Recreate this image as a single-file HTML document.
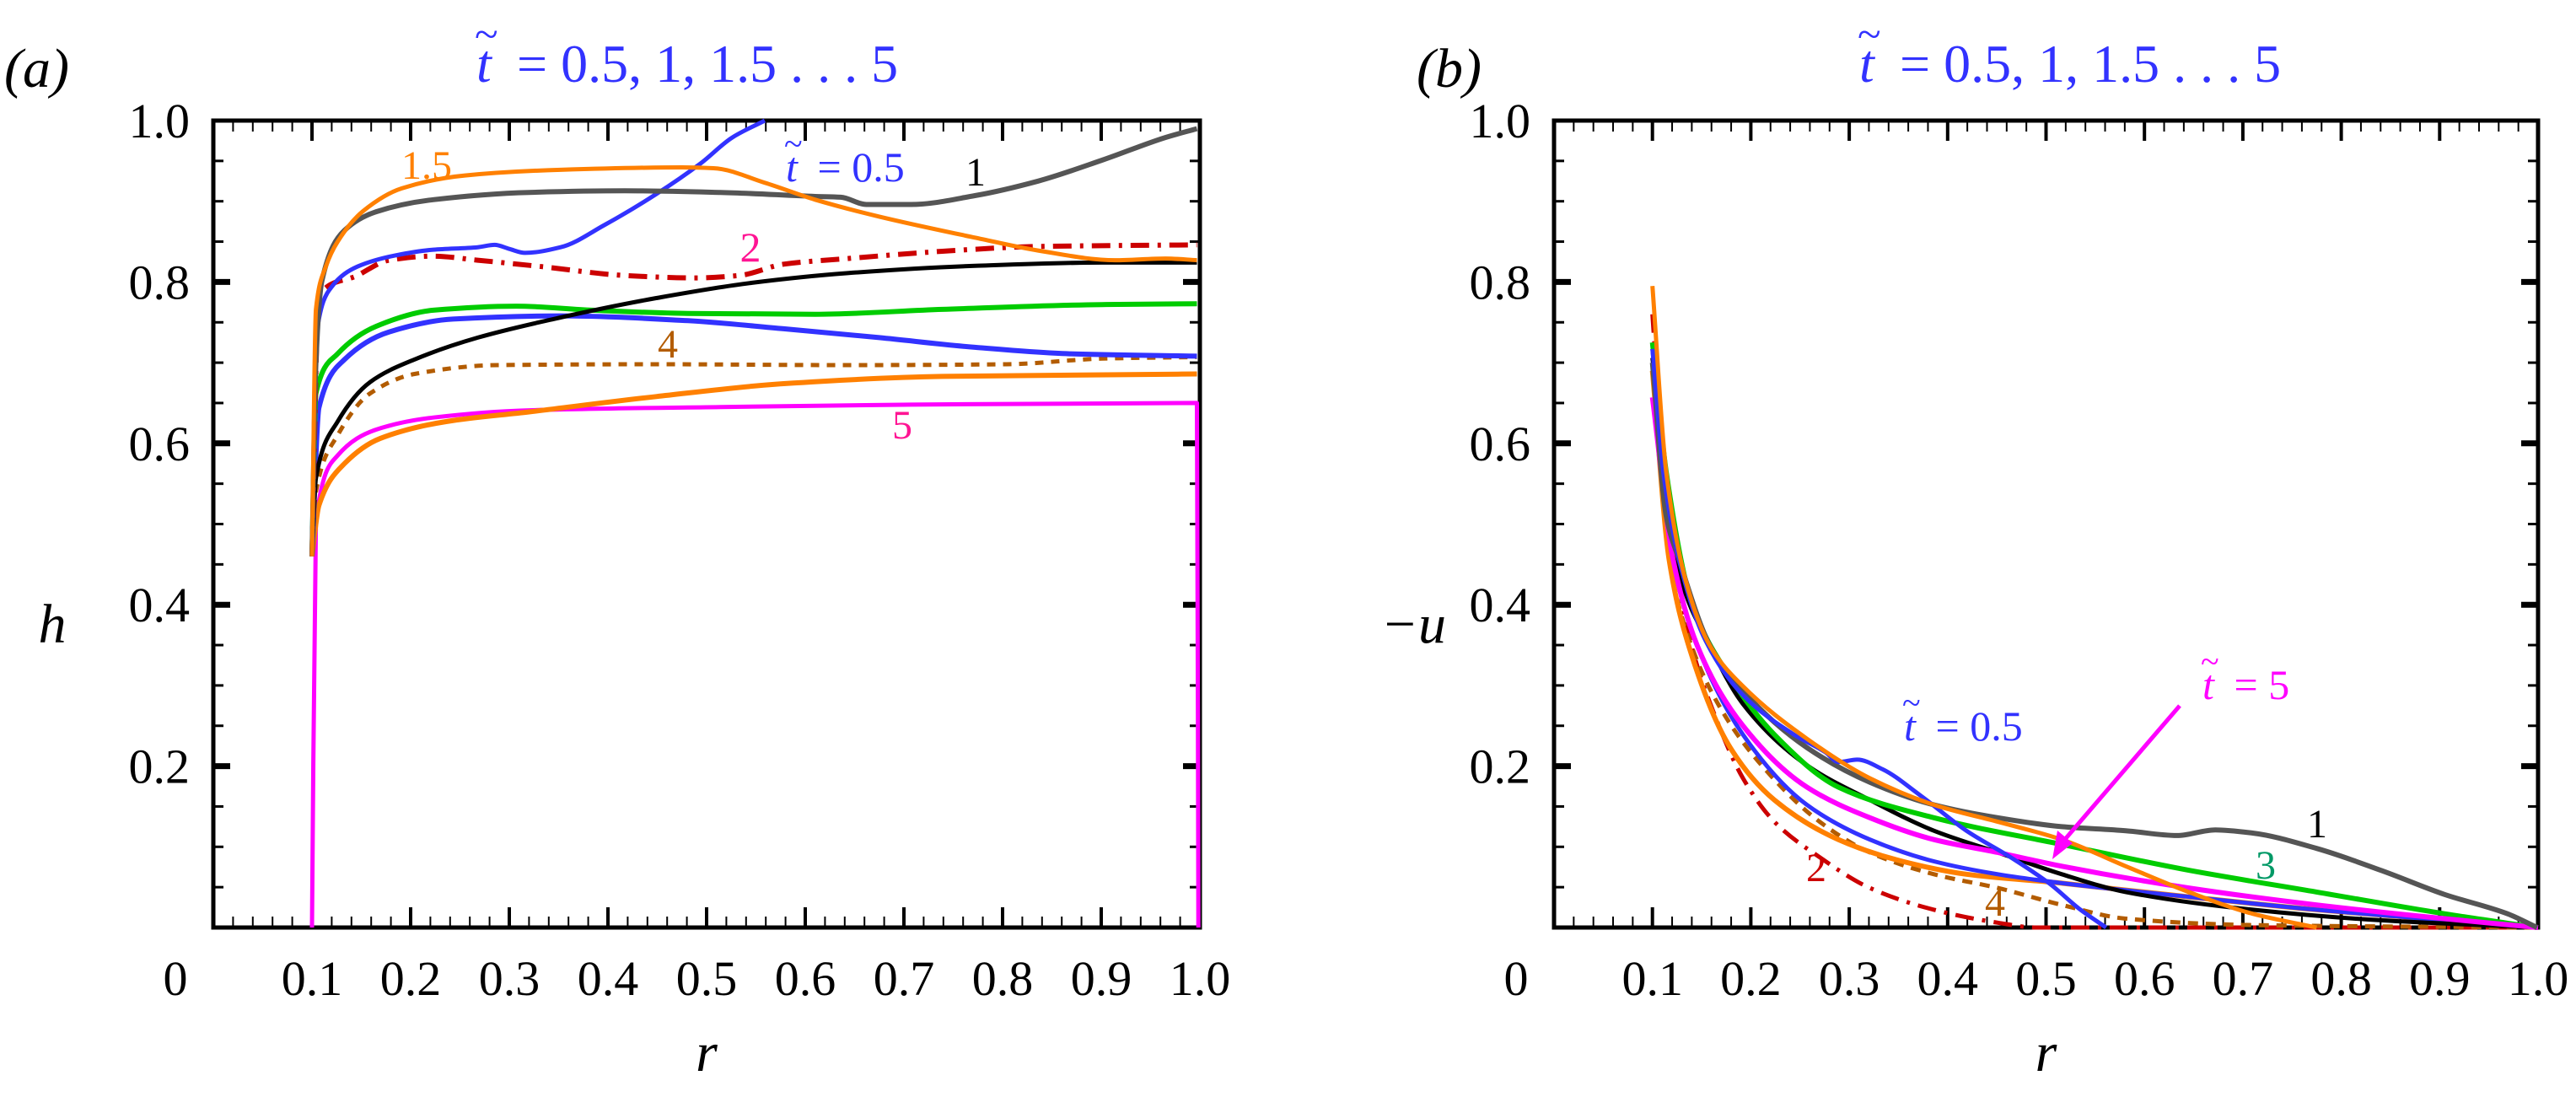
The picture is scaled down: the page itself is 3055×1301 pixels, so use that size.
<!DOCTYPE html>
<html><head><meta charset="utf-8"><style>
html,body{margin:0;padding:0;background:#fff;}
svg, svg text{font-family:"Liberation Serif","Times New Roman",serif;}
</style></head><body>
<svg id="fig" width="3055" height="1296" viewBox="0 0 3055 1296" xmlns="http://www.w3.org/2000/svg" font-family="Liberation Serif, serif">
<g id="pa"></g>
<g id="pb"></g>
</svg>
<script>
// ---- data: panel (a) h vs r ----
const aGray_r=[0.1,0.104,0.110,0.133,0.165,0.223,0.320,0.417,0.514,0.610,0.636,0.662,0.707,0.772,0.836,0.901,0.965,0.997];
const aGray_v=[0.46,0.70,0.801,0.864,0.887,0.902,0.911,0.913,0.911,0.906,0.905,0.896,0.896,0.907,0.925,0.951,0.979,0.990];
const aOr15_r=[0.1,0.104,0.114,0.126,0.152,0.191,0.255,0.352,0.475,0.507,0.559,0.610,0.675,0.772,0.836,0.914,0.965,0.997];
const aOr15_v=[0.46,0.766,0.819,0.850,0.888,0.916,0.932,0.939,0.942,0.941,0.923,0.902,0.881,0.855,0.839,0.827,0.829,0.827];
const aBl05_r=[0.1,0.104,0.120,0.146,0.185,0.223,0.268,0.285,0.300,0.316,0.352,0.397,0.449,0.494,0.526,0.559];
const aBl05_v=[0.46,0.731,0.794,0.819,0.833,0.840,0.843,0.846,0.841,0.836,0.843,0.871,0.909,0.947,0.979,1.0];
const aRed2_r=[0.1,0.107,0.146,0.178,0.223,0.268,0.333,0.417,0.488,0.533,0.578,0.643,0.739,0.836,0.997];
const aRed2_v=[0.46,0.784,0.808,0.827,0.832,0.827,0.819,0.808,0.805,0.808,0.822,0.829,0.838,0.844,0.846];
const aBlk_r=[0.1,0.104,0.126,0.159,0.204,0.268,0.352,0.449,0.546,0.643,0.772,0.901,0.997];
const aBlk_v=[0.46,0.557,0.627,0.676,0.704,0.731,0.756,0.780,0.799,0.811,0.820,0.824,0.824];
const aGrn_r=[0.1,0.104,0.126,0.165,0.223,0.307,0.384,0.481,0.610,0.739,0.901,0.997];
const aGrn_v=[0.46,0.662,0.711,0.745,0.765,0.770,0.765,0.761,0.760,0.766,0.772,0.773];
const aBl35_r=[0.1,0.107,0.133,0.178,0.243,0.352,0.481,0.578,0.675,0.772,0.868,0.997];
const aBl35_v=[0.46,0.644,0.704,0.738,0.754,0.758,0.752,0.742,0.731,0.719,0.711,0.708];
const aBr4_r=[0.1,0.104,0.126,0.159,0.204,0.288,0.449,0.643,0.804,0.901,0.997];
const aBr4_v=[0.46,0.540,0.610,0.662,0.686,0.697,0.698,0.697,0.698,0.705,0.707];
const aOr45_r=[0.1,0.107,0.133,0.169,0.236,0.320,0.449,0.578,0.739,0.997];
const aOr45_v=[0.46,0.523,0.575,0.606,0.627,0.639,0.658,0.674,0.683,0.686];
const aMag5_r=[0.1,0.104,0.126,0.165,0.223,0.320,0.514,0.707,0.997,0.9985];
const aMag5_v=[0.0,0.505,0.585,0.617,0.632,0.641,0.645,0.648,0.650,0.0];
// ---- data: panel (b) -u vs r ----
const bGray_r=[0.1,0.114,0.127,0.159,0.192,0.257,0.321,0.386,0.451,0.516,0.581,0.633,0.672,0.710,0.775,0.840,0.905,0.969,0.999];
const bGray_v=[0.70,0.51,0.456,0.348,0.293,0.223,0.180,0.152,0.136,0.125,0.120,0.114,0.121,0.117,0.098,0.071,0.041,0.017,0.0];
const bBl05_r=[0.1,0.111,0.127,0.153,0.192,0.244,0.276,0.289,0.308,0.334,0.373,0.419,0.464,0.503,0.535,0.561];
const bBl05_v=[0.717,0.565,0.456,0.358,0.288,0.239,0.217,0.205,0.208,0.196,0.163,0.120,0.087,0.055,0.022,0.0];
const bOr15_r=[0.1,0.114,0.134,0.159,0.192,0.257,0.321,0.386,0.451,0.516,0.581,0.645,0.710,0.775];
const bOr15_v=[0.795,0.565,0.429,0.348,0.299,0.234,0.185,0.152,0.131,0.109,0.076,0.044,0.017,0.0];
const bRed2_r=[0.1,0.111,0.125,0.140,0.166,0.192,0.224,0.270,0.321,0.386,0.451,0.490,1.0];
const bRed2_v=[0.760,0.565,0.44,0.348,0.255,0.185,0.131,0.087,0.049,0.022,0.006,0.0,0.0];
const bGrn3_r=[0.1,0.114,0.140,0.179,0.224,0.289,0.386,0.516,0.645,0.775,0.905,0.999];
const bGrn3_v=[0.725,0.565,0.402,0.310,0.239,0.174,0.136,0.103,0.071,0.044,0.017,0.0];
const bBlk_r=[0.1,0.127,0.159,0.192,0.257,0.321,0.386,0.451,0.516,0.581,0.710,0.840,1.0];
const bBlk_v=[0.706,0.440,0.348,0.277,0.201,0.158,0.120,0.093,0.066,0.044,0.022,0.009,0.0];
const bBl35_r=[0.1,0.121,0.146,0.192,0.257,0.321,0.386,0.451,0.516,0.645,0.775,1.0];
const bBl35_v=[0.717,0.456,0.348,0.239,0.152,0.109,0.082,0.066,0.055,0.038,0.022,0.0];
const bBr4_r=[0.1,0.117,0.140,0.172,0.211,0.270,0.321,0.386,0.451,0.516,0.581,0.710,1.0];
const bBr4_v=[0.690,0.456,0.348,0.266,0.201,0.131,0.093,0.066,0.049,0.028,0.011,0.003,0.0];
const bOr45_r=[0.1,0.117,0.140,0.179,0.224,0.289,0.354,0.419,0.516,0.645,0.775,0.905,1.0];
const bOr45_v=[0.69,0.456,0.337,0.223,0.158,0.109,0.082,0.066,0.055,0.038,0.022,0.009,0.0];
const bMag5_r=[0.1,0.121,0.146,0.192,0.257,0.321,0.386,0.451,0.516,0.645,0.775,0.905,1.0];
const bMag5_v=[0.657,0.456,0.348,0.250,0.174,0.136,0.109,0.093,0.076,0.049,0.028,0.011,0.0];
const xTicks=[0.1,0.2,0.3,0.4,0.5,0.6,0.7,0.8,0.9,1.0];
const xTickLabels=["0.1","0.2","0.3","0.4","0.5","0.6","0.7","0.8","0.9","1.0"];
const yTicks=[0.2,0.4,0.6,0.8,1.0];
const yTickLabels=["0.2","0.4","0.6","0.8","1.0"];

const NS="http://www.w3.org/2000/svg";
const FF="Liberation Serif, Times New Roman, serif";
const T=143,B=1100;
function mk(parent,tag,attrs,txt){const e=document.createElementNS(NS,tag);for(const k in attrs)e.setAttribute(k,attrs[k]);if(tag==='text')e.setAttribute('font-family',FF);if(txt!==undefined)e.textContent=txt;parent.appendChild(e);return e;}
function axes(g,L,R,ylabel,ylx,anchor){
  const X=r=>L+(R-L)*r, Y=v=>B-(B-T)*v;
  for(let i=1;i<50;i++){const x=X(i/50);const maj=i%5===0;const len=maj?24:13;
    mk(g,'line',{x1:x,y1:B,x2:x,y2:B-len,stroke:'#000','stroke-width':maj?4:2});
    mk(g,'line',{x1:x,y1:T,x2:x,y2:T+len,stroke:'#000','stroke-width':maj?4:2});}
  for(let i=1;i<20;i++){const y=Y(i/20);const maj=i%4===0;const len=maj?20:12;
    mk(g,'line',{x1:L,y1:y,x2:L+len,y2:y,stroke:'#000','stroke-width':maj?7:3});
    mk(g,'line',{x1:R,y1:y,x2:R-len,y2:y,stroke:'#000','stroke-width':maj?7:3});}
  mk(g,'rect',{x:L,y:T,width:R-L,height:B-T,fill:'none',stroke:'#000','stroke-width':5});
  for(let i=0;i<xTicks.length;i++){const t=mk(g,'text',{x:X(xTicks[i]),y:1180,'font-size':58,'text-anchor':'middle'},xTickLabels[i]);
    
    }
  mk(g,'text',{x:L-45,y:1180,'font-size':58,'text-anchor':'middle'},'0');
  for(let i=0;i<yTicks.length;i++){const t=mk(g,'text',{x:L-28,y:Y(yTicks[i])+20,'font-size':58,'text-anchor':'end'},yTickLabels[i]);
    
    }
  const xl=mk(g,'text',{x:(L+R)/2,y:1270,'font-size':66,'font-style':'italic','text-anchor':'middle'},'r');
  
  
  const yl=mk(g,'text',{x:ylx,y:762,'font-size':66,'font-style':'italic','text-anchor':anchor},ylabel);
  
  
  return [X,Y];
}
// monotone cubic interpolation path (Fritsch-Carlson)
function monoPath(xs,ys){
  const n=xs.length; if(n<3){return xs.map((x,i)=>(i?'L':'M')+x.toFixed(1)+','+ys[i].toFixed(1)).join('');}
  const d=[],m=new Array(n);
  for(let i=0;i<n-1;i++){const dx=xs[i+1]-xs[i];d.push(dx===0?0:(ys[i+1]-ys[i])/dx);}
  m[0]=d[0];m[n-1]=d[n-2];
  for(let i=1;i<n-1;i++){ if(d[i-1]*d[i]<=0)m[i]=0; else { const w1=2*(xs[i+1]-xs[i])+(xs[i]-xs[i-1]), w2=(xs[i+1]-xs[i])+2*(xs[i]-xs[i-1]); m[i]=(w1+w2)/(w1/d[i-1]+w2/d[i]); } }
  let s='M'+xs[0].toFixed(1)+','+ys[0].toFixed(1);
  for(let i=0;i<n-1;i++){const h=(xs[i+1]-xs[i])/3;
    s+='C'+(xs[i]+h).toFixed(1)+','+(ys[i]+m[i]*h).toFixed(1)+' '+(xs[i+1]-h).toFixed(1)+','+(ys[i+1]-m[i+1]*h).toFixed(1)+' '+xs[i+1].toFixed(1)+','+ys[i+1].toFixed(1);}
  return s;
}
function series(g,X,Y,rs,vs,color,w,dash,name){
  const d=monoPath(rs.map(X),vs.map(Y));
  const a={d:d,fill:'none',stroke:color,'stroke-width':w,'stroke-linejoin':'round'};
  if(dash)a['stroke-dasharray']=dash;
  const p=mk(g,'path',a);
  
  
}
function lbl(g,x,y,txt,color,size,name){const t=mk(g,'text',{x:x,y:y,fill:color,'font-size':size||48,'text-anchor':'middle'},txt);
  
  }
function tlabel(g,x,y,rest,color,size,name){
  const gg=mk(g,'g',{});
  
  
  mk(gg,'text',{x:x,y:y,fill:color,'font-size':size,'font-style':'italic'},'t');
  mk(gg,'text',{x:x-2,y:y-size*0.62,fill:color,'font-size':size*0.8},'~');
  mk(gg,'text',{x:x+size*0.75,y:y,fill:color,'font-size':size},rest);
}
const BLUE='#3232ff',OR='#ff8000',GRAY='#555',RED='#cc0000',GRN='#00cc00',BR='#b35c00',MAG='#ff00ff',BLK='#000';
// Panel a
(function(){
  const g=document.getElementById('pa');
  const [X,Y]=axes(g,253,1423,'h',62,'middle');
  const pl=mk(g,'g',{});
  series(pl,X,Y,aMag5_r,aMag5_v,MAG,5,null,'line-t5');
  series(pl,X,Y,aOr45_r,aOr45_v,OR,6,null,'line-t4.5');
  series(pl,X,Y,aBr4_r,aBr4_v,BR,5,'10,9','line-t4');
  series(pl,X,Y,aBl35_r,aBl35_v,BLUE,6,null,'line-t3.5');
  series(pl,X,Y,aGrn_r,aGrn_v,GRN,6,null,'line-t3');
  series(pl,X,Y,aBlk_r,aBlk_v,BLK,5,null,'line-t2.5');
  series(pl,X,Y,aRed2_r,aRed2_v,RED,6,'22,10,4,10','line-t2');
  series(pl,X,Y,aBl05_r,aBl05_v,BLUE,5,null,'line-t0.5');
  series(pl,X,Y,aGray_r,aGray_v,GRAY,6,null,'line-t1');
  series(pl,X,Y,aOr15_r,aOr15_v,OR,5,null,'line-t1.5');
  lbl(g,506,212,'1.5',OR,48,'label-1.5');
  tlabel(g,932,215,'= 0.5',BLUE,50,'label-t0.5');
  lbl(g,1157,220,'1',BLK,48,'label-1');
  lbl(g,890,310,'2','#ff1493',50,'label-2');
  lbl(g,792,424,'4',BR,48,'label-4');
  lbl(g,1070,520,'5','#ff1493',48,'label-5');
  const pa=mk(g,'text',{x:5,y:103,'font-size':66,'font-style':'italic'},'(a)');
  
  
  tlabel(g,565,97,'= 0.5, 1, 1.5 . . . 5',BLUE,64,'title-a');
})();
// Panel b
(function(){
  const g=document.getElementById('pb');
  const [X,Y]=axes(g,1843,3010,'−u',1715,'end');
  const pl=mk(g,'g',{});
  series(pl,X,Y,bRed2_r,bRed2_v,RED,5,'22,10,4,10','line-t2');
  series(pl,X,Y,bBr4_r,bBr4_v,BR,5,'12,9','line-t4');
  series(pl,X,Y,bOr45_r,bOr45_v,OR,6,null,'line-t4.5');
  series(pl,X,Y,bBl35_r,bBl35_v,BLUE,5,null,'line-t3.5');
  series(pl,X,Y,bBlk_r,bBlk_v,BLK,5,null,'line-t2.5');
  series(pl,X,Y,bGrn3_r,bGrn3_v,GRN,6,null,'line-t3');
  series(pl,X,Y,bMag5_r,bMag5_v,MAG,6,null,'line-t5');
  series(pl,X,Y,bGray_r,bGray_v,GRAY,6,null,'line-t1');
  series(pl,X,Y,bBl05_r,bBl05_v,BLUE,5,null,'line-t0.5');
  series(pl,X,Y,bOr15_r,bOr15_v,OR,5,null,'line-t1.5');
  tlabel(g,2258,878,'= 0.5',BLUE,50,'label-t0.5');
  tlabel(g,2612,829,'= 5',MAG,50,'label-t5');
  const ar=mk(g,'g',{});
  
  
  mk(ar,'line',{x1:2585,y1:837,x2:2445,y2:1000,stroke:MAG,'stroke-width':5});
  mk(ar,'polygon',{points:'2434,1019 2440,985 2458,1000',fill:MAG});
  lbl(g,2748,993,'1',BLK,48,'label-1');
  lbl(g,2687,1042,'3','#009966',48,'label-3');
  lbl(g,2154,1045,'2',RED,48,'label-2');
  lbl(g,2366,1086,'4',BR,48,'label-4');
  const pb=mk(g,'text',{x:1680,y:103,'font-size':66,'font-style':'italic'},'(b)');
  
  
  tlabel(g,2205,97,'= 0.5, 1, 1.5 . . . 5',BLUE,64,'title-b');
})();
</script>
</body></html>
